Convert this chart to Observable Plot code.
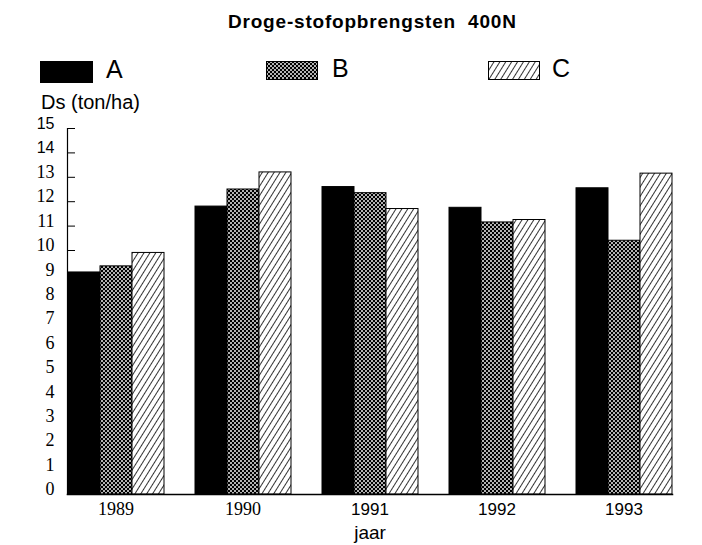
<!DOCTYPE html>
<html><head><meta charset="utf-8">
<script src="https://cdn.jsdelivr.net/npm/d3@7"></script>
<script src="https://cdn.jsdelivr.net/npm/@observablehq/plot@0.6"></script>
<style>
body{margin:0;background:#fff;}
#wrap{position:relative;width:702px;height:545px;font-family:"Liberation Sans",Arial,sans-serif;color:#000;overflow:hidden;background:#fff;}
#title{position:absolute;left:228px;top:12px;font-weight:bold;font-size:19px;letter-spacing:0.8px;line-height:1;white-space:pre;z-index:2;}
.sw{position:absolute;z-index:2;}
.lt{position:absolute;font-family:"Liberation Sans",sans-serif;font-size:25px;line-height:1;z-index:2;}
#ylab{position:absolute;left:41px;top:92px;font-size:20px;line-height:1;z-index:2;}
#chart{position:absolute;left:0;top:90px;z-index:1;}
</style></head><body>
<svg width="0" height="0" style="position:absolute">
  <defs>
    <pattern id="patB" width="4" height="4" patternUnits="userSpaceOnUse">
      <rect width="4" height="4" fill="#000"/>
      <circle cx="1" cy="1" r="0.95" fill="#fff"/>
      <circle cx="3" cy="3" r="0.95" fill="#fff"/>
    </pattern>
    <pattern id="patC" width="5" height="5" patternUnits="userSpaceOnUse" patternTransform="rotate(32)">
      <rect width="5" height="5" fill="#fff"/>
      <line x1="0" y1="0" x2="0" y2="5" stroke="#000" stroke-width="1.6"/>
    </pattern>
  </defs>
</svg>
<div id="wrap">
  <div id="title">Droge-stofopbrengsten  400N</div>
  <div id="legend"></div>
  <div id="ylab">Ds (ton/ha)</div>
  <div id="chart"></div>
</div>
<script>
const years = ["1989", "1990", "1991", "1992", "1993"];
const series = ["A", "B", "C"];
const valuesA = [9.1, 11.8, 12.6, 11.75, 12.55];
const valuesB = [9.35, 12.5, 12.35, 11.15, 10.4];
const valuesC = [9.9, 13.2, 11.7, 11.25, 13.15];
const yTicks = [0, 1, 2, 3, 4, 5, 6, 7, 8, 9, 10, 11, 12, 13, 14, 15];
const fills = ["#000", "url(#patB)", "url(#patC)"];

const seriesValues = {A: valuesA, B: valuesB, C: valuesC};
const data = [];
years.forEach((yr, i) => series.forEach(s => data.push({year: yr, series: s, value: seriesValues[s][i]})));

// legend
const legendPos = [
  {sx: 40, sy: 61, sw: 53, sh: 22, tx: 106, ty: 57},
  {sx: 266, sy: 61, sw: 52, sh: 19, tx: 332, ty: 56},
  {sx: 488, sy: 61, sw: 52, sh: 19, tx: 552, ty: 56}
];
const legend = document.getElementById("legend");
series.forEach((s, i) => {
  const p = legendPos[i];
  const sw = document.createElementNS("http://www.w3.org/2000/svg", "svg");
  sw.setAttribute("class", "sw");
  sw.setAttribute("width", p.sw);
  sw.setAttribute("height", p.sh);
  sw.style.left = p.sx + "px";
  sw.style.top = p.sy + "px";
  const r = document.createElementNS("http://www.w3.org/2000/svg", "rect");
  r.setAttribute("x", 0.5); r.setAttribute("y", 0.5);
  r.setAttribute("width", p.sw - 1); r.setAttribute("height", p.sh - 1);
  r.setAttribute("fill", fills[i]); r.setAttribute("stroke", "#000");
  sw.appendChild(r);
  legend.appendChild(sw);
  const t = document.createElement("div");
  t.className = "lt";
  t.textContent = s;
  t.style.left = p.tx + "px";
  t.style.top = p.ty + "px";
  legend.appendChild(t);
});

const chart = Plot.plot({
  width: 702,
  height: 455,
  marginTop: 38,
  marginBottom: 51,
  marginLeft: 40,
  marginRight: 2,
  style: {fontFamily: "'Liberation Serif', serif", fontSize: "16px", background: "transparent", color: "#000"},
  fx: {domain: years, paddingInner: 0.234, paddingOuter: 0.2, label: null},
  x: {domain: series, padding: 0, axis: null},
  y: {domain: [0, 15], axis: null},
  color: {domain: series, range: fills},
  marks: [
    Plot.barY(data, {fx: "year", x: "series", y: "value", fill: "series", stroke: "#000", strokeWidth: 1, inset: 0}),
    Plot.frame({anchor: "bottom", facet: "super", strokeWidth: 1.5}),
    Plot.frame({anchor: "left", facet: "super", strokeWidth: 1.2}),
    Plot.axisY(yTicks, {label: null, tickSize: 8, dx: 8, tickFormat: () => ""}),
    Plot.axisY(yTicks, {label: null, tickSize: 0, tickPadding: 13, dy: -5, fill: "#000"}),
    Plot.axisFx({anchor: "bottom", label: null, tickSize: 0, tickPadding: 8, fill: "#000"}),
    Plot.text(["jaar"], {frameAnchor: "bottom", facet: "super", dy: 44, fontSize: 19, fontFamily: "'Liberation Sans', sans-serif"})
  ]
});
document.getElementById("chart").appendChild(chart);

// scan-like font mix on tick labels
d3.select(chart).selectAll('g[aria-label="fx-axis tick label"] text').each(function(d, i) {
  if (i >= 2) d3.select(this).style("font-family", "'Liberation Sans', sans-serif").style("font-size", "17px");
  else d3.select(this).style("font-family", "'Liberation Serif', serif").style("font-size", "18px");
});
d3.select(chart).selectAll('g[aria-label="y-axis tick label"] text').each(function() {
  const t = this.textContent;
  if (t === "15" || t === "14") d3.select(this).style("font-family", "'Liberation Sans', sans-serif").style("font-size", "16px");
  else d3.select(this).style("font-family", "'Liberation Serif', serif").style("font-size", "18px");
});
</script>
</body></html>
